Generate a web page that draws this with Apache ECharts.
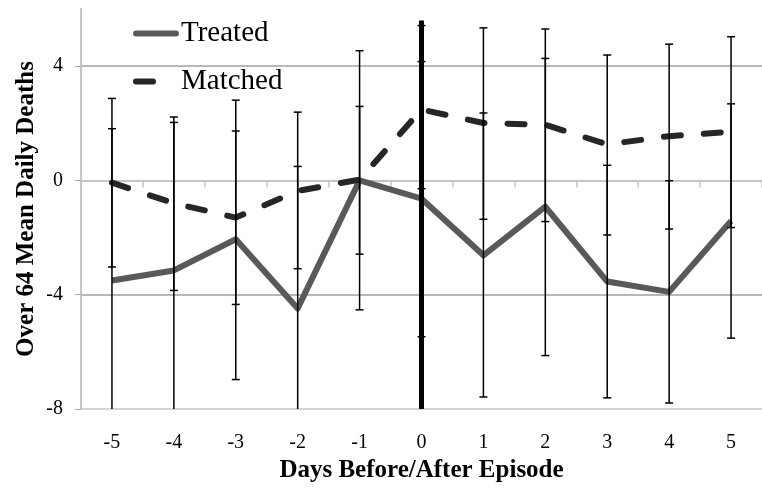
<!DOCTYPE html>
<html>
<head>
<meta charset="utf-8">
<script src="https://cdn.jsdelivr.net/npm/echarts@6/dist/echarts.min.js"></script>
<style>html,body{margin:0;padding:0;background:#fff}#c{width:762px;height:488px}</style>
</head>
<body>
<div id="c"></div>
<script>
const categories = ['-5','-4','-3','-2','-1','0','1','2','3','4','5'];
const treated     = [-3.5, -3.15, -2.06, -4.48, 0.0, -0.64, -2.62, -0.92, -3.54, -3.9, -1.42];
const treatedLow  = [-8.8, -8.3, -6.97, -9.45, -4.53, -5.47, -7.58, -6.13, -7.61, -7.79, -5.52];
const treatedHigh = [1.81, 2.03, 2.81, 0.49, 4.54, 4.16, 2.36, 4.27, 0.53, -0.01, 2.68];
const matched     = [-0.08, -0.8, -1.3, -0.37, 0.03, 2.48, 2.01, 1.95, 1.26, 1.55, 1.7];
const matchedLow  = [-3.03, -3.85, -4.34, -3.09, -2.58, -0.29, -1.36, -1.44, -1.91, -1.70, -1.65];
const matchedHigh = [2.87, 2.22, 1.73, 2.39, 2.59, 5.42, 5.34, 5.30, 4.39, 4.77, 5.03];
const episodeDay = '0';
const episodeTop = 5.6;
const yMin = -8, yMax = 6, yStep = 4;

const FONT = '"Liberation Serif", "Times New Roman", serif';

function errData(low, high) {
  return categories.map((c, i) => [i, low[i], high[i]]);
}
function renderErr(params, api) {
  const i = api.value(0);
  const lo = api.value(1), hi = api.value(2);
  const cs = params.coordSys;
  const top = api.coord([i, hi]);
  const bot = api.coord([i, lo]);
  const yT = cs.y, yB = cs.y + cs.height;
  const x = top[0];
  const y1 = Math.max(top[1], yT), y2 = Math.min(bot[1], yB);
  const st = {stroke: '#000', lineWidth: 1.5};
  const children = [{type: 'line', shape: {x1: x, y1: y1, x2: x, y2: y2}, style: st}];
  const hw = 4;
  if (top[1] >= yT && top[1] <= yB) children.push({type: 'line', shape: {x1: x - hw, y1: top[1], x2: x + hw, y2: top[1]}, style: st});
  if (bot[1] >= yT && bot[1] <= yB) children.push({type: 'line', shape: {x1: x - hw, y1: bot[1], x2: x + hw, y2: bot[1]}, style: st});
  return {type: 'group', children: children};
}

const chart = echarts.init(document.getElementById('c'), null, {renderer: 'canvas'});
chart.setOption({
  animation: false,
  backgroundColor: '#fff',
  textStyle: {fontFamily: FONT},
  grid: {left: 81, right: -4, top: 9, bottom: 78, containLabel: false},
  legend: {
    orient: 'vertical', left: 133, top: 19, padding: 0,
    itemWidth: 40, itemHeight: 14, itemGap: 19,
    itemStyle: {opacity: 0},
    lineStyle: {width: 6, cap: 'round'},
    data: [
      {name: 'Treated'},
      {name: 'Matched', lineStyle: {type: [17, 40], width: 6, cap: 'round'}}
    ],
    textStyle: {fontFamily: FONT, fontSize: 29, color: '#000', lineHeight: 29, padding: [0, 0, 0, 0]}
  },
  xAxis: {
    type: 'category', data: categories, boundaryGap: true,
    axisLine: {show: true, lineStyle: {color: '#c6c6c6', width: 2}},
    axisTick: {show: true, length: 7, lineStyle: {color: '#c6c6c6', width: 1.5}},
    axisLabel: {fontFamily: FONT, fontSize: 20, color: '#000', margin: 24},
    splitLine: {show: false},
    name: 'Days Before/After Episode', nameLocation: 'middle', nameGap: 49,
    nameMoveOverlap: false,
    nameTextStyle: {fontFamily: FONT, fontSize: 25, fontWeight: 'bold', color: '#000'}
  },
  yAxis: {
    type: 'value', min: yMin, max: yMax, interval: yStep,
    axisLine: {show: true, lineStyle: {color: '#c6c6c6', width: 2}},
    axisTick: {show: true, length: 6, lineStyle: {color: '#a6a6a6', width: 1}},
    axisLabel: {fontFamily: FONT, fontSize: 20, color: '#000', margin: 18, showMaxLabel: false},
    splitLine: {show: true, lineStyle: {color: ['#c6c6c6', '#a0a0a0', '#cacaca', '#a0a0a0', 'rgba(0,0,0,0)'], width: 1.5}},
    name: 'Over 64 Mean Daily Deaths', nameLocation: 'middle', nameGap: 42, nameRotate: 90,
    nameMoveOverlap: false,
    nameTextStyle: {fontFamily: FONT, fontSize: 25, fontWeight: 'bold', color: '#000'}
  },
  series: [
    {
      name: 'Treated', type: 'line', data: treated, symbol: 'none', z: 3,
      lineStyle: {color: '#595959', width: 6, join: 'round'},
      itemStyle: {color: '#595959'}
    },
    {
      name: 'Matched', type: 'line', data: matched, symbol: 'none', z: 3,
      lineStyle: {color: '#262626', width: 6, type: [17, 23], cap: 'round', join: 'round'},
      itemStyle: {color: '#262626'}
    },
    {
      name: 'treatedErr', type: 'custom', z: 4, silent: true,
      data: errData(treatedLow, treatedHigh), renderItem: renderErr,
      encode: {x: 0, y: [1, 2]}
    },
    {
      name: 'matchedErr', type: 'custom', z: 4, silent: true,
      data: errData(matchedLow, matchedHigh), renderItem: renderErr,
      encode: {x: 0, y: [1, 2]},
      markLine: {
        silent: true, symbol: 'none', label: {show: false},
        lineStyle: {color: '#000', width: 5, type: 'solid'},
        data: [[{coord: [episodeDay, episodeTop]}, {coord: [episodeDay, yMin]}]]
      }
    }
  ]
});
</script>
</body>
</html>
